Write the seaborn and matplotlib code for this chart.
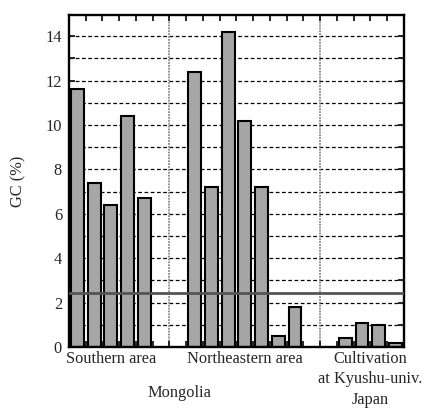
import numpy as np
import pandas as pd
import matplotlib
matplotlib.use("Agg")
import matplotlib.pyplot as plt
import seaborn as sns

# Data
southern_pos = [0, 1, 2, 3, 4]
southern_gc = [11.6, 7.4, 6.4, 10.4, 6.7]
northeast_pos = [7, 8, 9, 10, 11, 12, 13]
northeast_gc = [12.4, 7.2, 14.2, 10.2, 7.2, 0.5, 1.8]
japan_pos = [16, 17, 18, 19]
japan_gc = [0.4, 1.1, 1.0, 0.2]
ref_level = 2.42
group_labels = ["Southern area", "Northeastern area", "Cultivation\nat Kyushu-univ."]
country_labels = ["Mongolia", "Japan"]

sns.set_theme(style="white")
plt.rcParams['font.family'] = ['Liberation Serif', 'DejaVu Serif']

df = pd.DataFrame({
    "pos": southern_pos + northeast_pos + japan_pos,
    "gc": southern_gc + northeast_gc + japan_gc,
})

FS = 11.8
fig = plt.figure(figsize=(4.26, 4.08), dpi=100)
ax = fig.add_axes([0.162, 0.1495, 0.786, 0.8135])

# grid lines
for yv in range(1, 15):
    ax.axhline(yv, color="black", lw=0.9, ls=(0, (3, 2)), zorder=0)
for xv in [5.5, 14.5]:
    ax.axvline(xv, color="#888888", lw=1.3, ls=(0, (1, 0.6)), zorder=0)

sns.barplot(data=df, x="pos", y="gc", native_scale=True, width=0.77,
            color="#a6a6a6", saturation=1, edgecolor="black", linewidth=1.5,
            errorbar=None, ax=ax, zorder=2)

ax.axhline(ref_level, color="#555555", lw=2.0, zorder=3)

ax.set_xlim(-0.5, 19.5)
ax.set_ylim(0, 14.95)
ax.set_yticks(np.arange(0, 15, 2))
ax.set_yticks(np.arange(0, 15, 1), minor=True)
ax.set_yticklabels([str(v) for v in range(0, 15, 2)], fontsize=FS)
ax.set_xticks(np.arange(0.5, 19, 1))
ax.set_xticklabels([])
ax.tick_params(axis="both", which="both", direction="in", length=4, width=1.4,
               top=True, right=True, bottom=True, left=True, pad=5)
for s in ax.spines.values():
    s.set_linewidth(1.7)
    s.set_color("black")

ax.set_xlabel("")
ax.set_ylabel("GC (%)", fontsize=FS, labelpad=14)

# group labels
ax.text(2, -0.52, group_labels[0], ha="center", va="center", fontsize=FS)
ax.text(10, -0.52, group_labels[1], ha="center", va="center", fontsize=FS)
ax.text(17.5, -1.0, group_labels[2], ha="center", va="center", fontsize=FS, linespacing=1.35)
ax.text(6.1, -2.07, country_labels[0], ha="center", va="center", fontsize=FS)
ax.text(17.5, -2.40, country_labels[1], ha="center", va="center", fontsize=FS)

fig.savefig("out.png", dpi=100)
